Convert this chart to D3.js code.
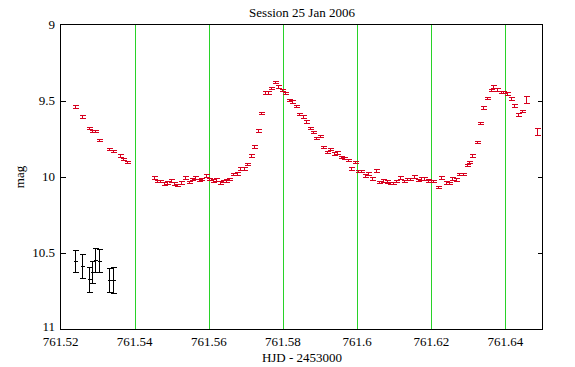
<!DOCTYPE html>
<html><head><meta charset="utf-8">
<script src="https://cdn.jsdelivr.net/npm/d3@7"></script>
<style>body{margin:0;background:#fff}svg{display:block}text{font-family:"Liberation Serif","Times New Roman",serif;fill:#000}</style>
</head><body><div id="chart"></div>
<script>
const title = "Session 25 Jan 2006";
const xLabel = "HJD - 2453000";
const yLabel = "mag";
const xTicks = [761.52, 761.54, 761.56, 761.58, 761.6, 761.62, 761.64];
const xTickLabels = ["761.52","761.54","761.56","761.58","761.6","761.62","761.64"];
const yTicks = [9, 9.5, 10, 10.5, 11];
const yTickLabels = ["9","9.5","10","10.5","11"];

// variable star (red)
const varTime = [761.52378,761.52568,761.52768,761.52838,761.52919,761.53038,761.53308,761.53405,761.53595,761.53686,761.53784,
761.54514,761.54600,761.54695,761.54784,761.54878,761.54970,761.55062,761.55154,761.55246,761.55357,761.55459,761.55546,761.55635,761.55727,761.55797,761.55924,761.56014,761.56100,761.56189,761.56303,761.56370,761.56451,761.56554,761.56659,761.56754,761.56830,761.56951,761.57024,761.57141,761.57216,761.57324,761.57416,761.57514,761.57600,761.57676,761.57781,761.57870,761.57970,761.58059,761.58159,761.58235,761.58349,761.58438,761.58541,761.58622,761.58730,761.58816,761.58897,761.58997,761.59078,761.59187,761.59270,761.59370,761.59451,761.59559,761.59649,761.59754,761.59835,761.59949,761.60014,761.60114,761.60203,761.60297,761.60403,761.60519,761.60595,761.60708,761.60795,761.60876,761.60973,761.61059,761.61168,761.61257,761.61343,761.61432,761.61538,761.61632,761.61727,761.61816,761.61905,761.61989,761.62060,761.62184,761.62270,761.62384,761.62465,761.62568,761.62654,761.62757,761.62851,761.62951,761.63027,761.63108,761.63222,761.63303,761.63400,761.63492,761.63600,761.63676,761.63784,761.63873,761.63946,761.64041,761.64149,761.64243,761.64343,761.64438,761.64546,761.64865];
const varMag = [9.539,9.602,9.680,9.698,9.698,9.757,9.816,9.829,9.860,9.882,9.902,
10.003,10.026,10.028,10.043,10.035,10.024,10.043,10.051,10.035,10.004,10.031,10.014,10.003,10.021,10.013,9.991,10.013,10.022,10.015,10.035,10.026,10.024,10.014,9.982,9.976,9.943,9.943,9.913,9.859,9.800,9.694,9.579,9.447,9.446,9.418,9.378,9.406,9.429,9.451,9.496,9.505,9.535,9.588,9.602,9.636,9.680,9.706,9.743,9.731,9.804,9.835,9.815,9.847,9.838,9.870,9.877,9.890,9.944,9.900,9.959,9.959,9.989,9.977,10.010,9.956,10.033,10.023,10.030,10.039,10.038,10.028,10.003,10.026,10.013,10.013,9.997,10.021,10.010,10.011,10.024,10.026,10.026,10.064,10.002,10.037,10.039,10.010,10.015,9.979,9.979,9.923,9.903,9.858,9.769,9.647,9.543,9.482,9.429,9.406,9.425,9.442,9.442,9.452,9.486,9.531,9.590,9.568,9.493,9.703];
const varErr = [0.008,0.008,0.008,0.008,0.008,0.008,0.008,0.008,0.008,0.008,0.008,
0.008,0.008,0.008,0.008,0.008,0.008,0.008,0.008,0.008,0.008,0.008,0.008,0.008,0.008,0.008,0.010,0.008,0.008,0.008,0.008,0.008,0.008,0.008,0.008,0.008,0.008,0.008,0.008,0.008,0.009,0.008,0.008,0.008,0.008,0.008,0.008,0.008,0.008,0.008,0.008,0.008,0.008,0.008,0.008,0.008,0.008,0.008,0.008,0.008,0.008,0.008,0.008,0.008,0.008,0.008,0.008,0.008,0.008,0.008,0.008,0.008,0.008,0.008,0.008,0.008,0.008,0.008,0.008,0.008,0.008,0.008,0.008,0.008,0.008,0.008,0.008,0.008,0.008,0.008,0.008,0.008,0.008,0.008,0.008,0.008,0.008,0.008,0.008,0.008,0.008,0.008,0.008,0.008,0.008,0.008,0.008,0.008,0.008,0.008,0.008,0.008,0.008,0.008,0.008,0.008,0.008,0.008,0.025,0.022];

// comparison star (black)
const cmpTime = [761.52378,761.52568,761.52768,761.52838,761.52919,761.53038,761.53308,761.53405];
const cmpMag = [10.553,10.584,10.671,10.625,10.545,10.549,10.676,10.676];
const cmpErr = [0.072,0.078,0.083,0.071,0.081,0.075,0.081,0.085];

const W = 575, H = 367;
const L = 60.5, R = 542.5, T = 24.5, B = 329.5;
const svg = d3.select("#chart").append("svg").attr("width", W).attr("height", H)
  .attr("shape-rendering", "crispEdges");
const x = d3.scaleLinear().domain([761.52, 761.65]).range([L, R]);
const y = d3.scaleLinear().domain([9, 11]).range([T, B]);
const px = v => Math.round(v) + 0.5;

// green grid lines
svg.append("g").selectAll("line").data(xTicks.slice(1)).join("line")
  .attr("x1", d => px(x(d))).attr("x2", d => px(x(d)))
  .attr("y1", T).attr("y2", B).style("stroke", "rgb(40,210,40)").attr("stroke-width", 1);

// y ticks inside
const yInner = yTicks.slice(1, -1);
svg.append("g").selectAll("line").data(yInner).join("line")
  .attr("x1", L).attr("x2", L + 5).attr("y1", d => px(y(d))).attr("y2", d => px(y(d)))
  .style("stroke", "#000");
svg.append("g").selectAll("line").data(yInner).join("line")
  .attr("x1", R - 5).attr("x2", R).attr("y1", d => px(y(d))).attr("y2", d => px(y(d)))
  .style("stroke", "#000");

// frame
svg.append("rect").attr("x", L).attr("y", T).attr("width", R - L).attr("height", B - T)
  .attr("fill", "none").style("stroke", "#000").attr("stroke-width", 1);

// tick labels
svg.append("g").selectAll("text").data(xTicks).join("text")
  .attr("x", d => x(d)).attr("y", 346).attr("text-anchor", "middle")
  .attr("font-size", 13).text((d, i) => xTickLabels[i]);
svg.append("g").selectAll("text").data(yTicks).join("text")
  .attr("x", 55).attr("y", (d, i) => y(d) + (i === yTicks.length - 1 ? 1 : 4)).attr("text-anchor", "end")
  .attr("font-size", 13).text((d, i) => yTickLabels[i]);

svg.append("text").attr("x", 302).attr("y", 17).attr("text-anchor", "middle").attr("font-size", 13).text(title);
svg.append("text").attr("x", 302).attr("y", 362).attr("text-anchor", "middle").attr("font-size", 13).text(xLabel);
svg.append("text").attr("transform", "translate(24,177) rotate(-90)").attr("text-anchor", "middle").attr("font-size", 13).text(yLabel);

function errorBars(times, mags, errs, color, cap, mid) {
  const g = svg.append("g").style("stroke", color).attr("stroke-width", 1);
  times.forEach((t, i) => {
    const cx = px(x(t));
    const y1 = px(y(mags[i] - errs[i])), y2 = px(y(mags[i] + errs[i])), yc = px(y(mags[i]));
    g.append("line").attr("x1", cx).attr("x2", cx).attr("y1", y1).attr("y2", y2);
    g.append("line").attr("x1", cx - cap).attr("x2", cx + cap).attr("y1", y1).attr("y2", y1);
    g.append("line").attr("x1", cx - cap).attr("x2", cx + cap).attr("y1", y2).attr("y2", y2);
    if (mid) g.append("line").attr("x1", cx - mid).attr("x2", cx + mid).attr("y1", yc).attr("y2", yc);
  });
}
errorBars(varTime, varMag, varErr, "rgb(215,0,30)", 3, 0);
errorBars(cmpTime, cmpMag, cmpErr, "#000", 3, 2);
</script></body></html>
